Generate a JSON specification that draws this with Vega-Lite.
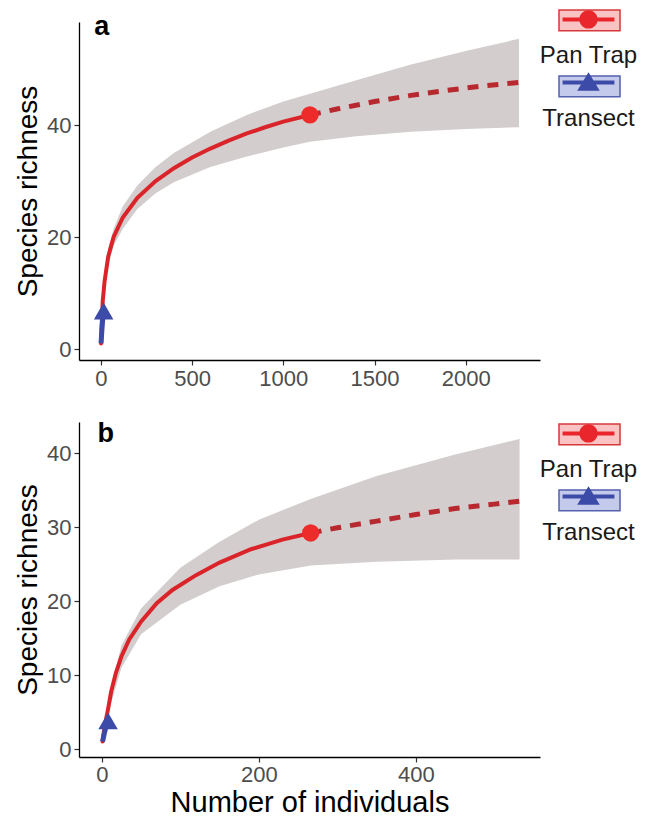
{
  "$schema": "https://vega.github.io/schema/vega-lite/v6.json",
  "background": "white",
  "padding": {"left": 14, "top": 12, "right": 5, "bottom": 0},
  "spacing": 30,
  "datasets": {
    "curves": [
      {"p":"a","m":"Pan Trap","t":"obs","n":1,"S":1},
      {"p":"a","m":"Pan Trap","t":"obs","n":5,"S":4.8},
      {"p":"a","m":"Pan Trap","t":"obs","n":10,"S":8.5},
      {"p":"a","m":"Pan Trap","t":"obs","n":20,"S":12},
      {"p":"a","m":"Pan Trap","t":"obs","n":40,"S":16.5},
      {"p":"a","m":"Pan Trap","t":"obs","n":70,"S":20},
      {"p":"a","m":"Pan Trap","t":"obs","n":120,"S":23.5},
      {"p":"a","m":"Pan Trap","t":"obs","n":200,"S":27},
      {"p":"a","m":"Pan Trap","t":"obs","n":300,"S":30},
      {"p":"a","m":"Pan Trap","t":"obs","n":400,"S":32.3},
      {"p":"a","m":"Pan Trap","t":"obs","n":500,"S":34.2},
      {"p":"a","m":"Pan Trap","t":"obs","n":600,"S":35.8},
      {"p":"a","m":"Pan Trap","t":"obs","n":700,"S":37.2},
      {"p":"a","m":"Pan Trap","t":"obs","n":800,"S":38.5},
      {"p":"a","m":"Pan Trap","t":"obs","n":900,"S":39.6},
      {"p":"a","m":"Pan Trap","t":"obs","n":1000,"S":40.6},
      {"p":"a","m":"Pan Trap","t":"obs","n":1146,"S":41.8},
      {"p":"a","m":"Pan Trap","t":"ext","n":1146,"S":41.8},
      {"p":"a","m":"Pan Trap","t":"ext","n":1300,"S":42.9},
      {"p":"a","m":"Pan Trap","t":"ext","n":1500,"S":44.2},
      {"p":"a","m":"Pan Trap","t":"ext","n":1700,"S":45.3},
      {"p":"a","m":"Pan Trap","t":"ext","n":1900,"S":46.2},
      {"p":"a","m":"Pan Trap","t":"ext","n":2100,"S":47},
      {"p":"a","m":"Pan Trap","t":"ext","n":2292,"S":47.6},
      {"p":"a","m":"Transect","t":"obs","n":1,"S":1},
      {"p":"a","m":"Transect","t":"obs","n":5,"S":3.2},
      {"p":"a","m":"Transect","t":"obs","n":10,"S":5.3},
      {"p":"a","m":"Transect","t":"obs","n":15,"S":6.8},
      {"p":"b","m":"Pan Trap","t":"obs","n":1,"S":1},
      {"p":"b","m":"Pan Trap","t":"obs","n":3,"S":2.6},
      {"p":"b","m":"Pan Trap","t":"obs","n":5,"S":3.8},
      {"p":"b","m":"Pan Trap","t":"obs","n":8,"S":5.4},
      {"p":"b","m":"Pan Trap","t":"obs","n":12,"S":7.8},
      {"p":"b","m":"Pan Trap","t":"obs","n":18,"S":10.3},
      {"p":"b","m":"Pan Trap","t":"obs","n":25,"S":12.5},
      {"p":"b","m":"Pan Trap","t":"obs","n":35,"S":14.8},
      {"p":"b","m":"Pan Trap","t":"obs","n":50,"S":17.2},
      {"p":"b","m":"Pan Trap","t":"obs","n":70,"S":19.7},
      {"p":"b","m":"Pan Trap","t":"obs","n":90,"S":21.5},
      {"p":"b","m":"Pan Trap","t":"obs","n":120,"S":23.5},
      {"p":"b","m":"Pan Trap","t":"obs","n":150,"S":25.2},
      {"p":"b","m":"Pan Trap","t":"obs","n":190,"S":27},
      {"p":"b","m":"Pan Trap","t":"obs","n":230,"S":28.3},
      {"p":"b","m":"Pan Trap","t":"obs","n":266,"S":29.2},
      {"p":"b","m":"Pan Trap","t":"ext","n":266,"S":29.2},
      {"p":"b","m":"Pan Trap","t":"ext","n":300,"S":29.9},
      {"p":"b","m":"Pan Trap","t":"ext","n":350,"S":30.8},
      {"p":"b","m":"Pan Trap","t":"ext","n":400,"S":31.7},
      {"p":"b","m":"Pan Trap","t":"ext","n":450,"S":32.5},
      {"p":"b","m":"Pan Trap","t":"ext","n":500,"S":33.1},
      {"p":"b","m":"Pan Trap","t":"ext","n":532,"S":33.5},
      {"p":"b","m":"Transect","t":"obs","n":1,"S":1},
      {"p":"b","m":"Transect","t":"obs","n":3,"S":2},
      {"p":"b","m":"Transect","t":"obs","n":5,"S":2.9},
      {"p":"b","m":"Transect","t":"obs","n":8,"S":3.8}
    ],
    "ribbon": [
      {"p":"a","n":1,"lo":1,"hi":1},
      {"p":"a","n":10,"lo":7.5,"hi":9.5},
      {"p":"a","n":20,"lo":11,"hi":13},
      {"p":"a","n":40,"lo":15,"hi":18},
      {"p":"a","n":70,"lo":18.5,"hi":21.5},
      {"p":"a","n":120,"lo":21.5,"hi":25.5},
      {"p":"a","n":200,"lo":25,"hi":29.2},
      {"p":"a","n":300,"lo":27.8,"hi":32.5},
      {"p":"a","n":400,"lo":29.8,"hi":35},
      {"p":"a","n":600,"lo":32.5,"hi":38.8},
      {"p":"a","n":800,"lo":34.4,"hi":41.8},
      {"p":"a","n":1000,"lo":36,"hi":44.2},
      {"p":"a","n":1146,"lo":37,"hi":45.6},
      {"p":"a","n":1400,"lo":38,"hi":48},
      {"p":"a","n":1700,"lo":38.8,"hi":50.8},
      {"p":"a","n":2000,"lo":39.3,"hi":53.2},
      {"p":"a","n":2292,"lo":39.6,"hi":55.4},
      {"p":"b","n":1,"lo":1,"hi":1},
      {"p":"b","n":10,"lo":5.5,"hi":7.5},
      {"p":"b","n":25,"lo":11,"hi":14},
      {"p":"b","n":50,"lo":15.5,"hi":19},
      {"p":"b","n":100,"lo":19.5,"hi":24.5},
      {"p":"b","n":150,"lo":22,"hi":28},
      {"p":"b","n":200,"lo":23.6,"hi":31},
      {"p":"b","n":266,"lo":24.8,"hi":33.8},
      {"p":"b","n":350,"lo":25.3,"hi":36.9},
      {"p":"b","n":450,"lo":25.6,"hi":39.8},
      {"p":"b","n":532,"lo":25.6,"hi":41.9}
    ],
    "points": [
      {"p":"a","m":"Pan Trap","n":1146,"S":41.8},
      {"p":"a","m":"Transect","n":15,"S":6.8},
      {"p":"b","m":"Pan Trap","n":266,"S":29.2},
      {"p":"b","m":"Transect","n":8,"S":3.8}
    ],
    "tags": [
      {"p":"a","label":"a","n":5,"S":56.1},
      {"p":"b","label":"b","n":5,"S":41.5}
    ]
  },
  "vconcat": [
    {
      "width": 461,
      "height": 338,
      "layer": [
        {
          "data": {"name": "ribbon"},
          "transform": [{"filter": "datum.p == 'a'"}],
          "mark": {"type": "area", "color": "#D3CDCD", "opacity": 1},
          "encoding": {
            "x": {"field": "n", "type": "quantitative", "scale": {"domain": [-120, 2407], "nice": false, "zero": false}, "axis": {"values": [0, 500, 1000, 1500, 2000], "format": "d", "title": null}},
            "y": {"field": "lo", "type": "quantitative", "scale": {"domain": [-1.96, 58.4], "nice": false, "zero": false}, "axis": {"values": [0, 20, 40], "title": "Species richness"}},
            "y2": {"field": "hi"}
          }
        },
        {
          "data": {"name": "curves"},
          "transform": [{"filter": "datum.p == 'a' && datum.m == 'Pan Trap' && datum.t == 'obs'"}],
          "mark": {"type": "line", "color": "#DA2429", "strokeWidth": 4, "strokeCap": "round"},
          "encoding": {"x": {"field": "n", "type": "quantitative"}, "y": {"field": "S", "type": "quantitative"}}
        },
        {
          "data": {"name": "curves"},
          "transform": [{"filter": "datum.p == 'a' && datum.m == 'Pan Trap' && datum.t == 'ext'"}],
          "mark": {"type": "line", "color": "#B8292F", "strokeWidth": 5, "strokeDash": [11, 9]},
          "encoding": {"x": {"field": "n", "type": "quantitative"}, "y": {"field": "S", "type": "quantitative"}}
        },
        {
          "data": {"name": "points"},
          "transform": [{"filter": "datum.p == 'a' && datum.m == 'Pan Trap'"}],
          "mark": {"type": "point", "shape": "circle", "filled": true, "color": "#EE2B2B", "size": 300, "opacity": 1},
          "encoding": {"x": {"field": "n", "type": "quantitative"}, "y": {"field": "S", "type": "quantitative"}}
        },
        {
          "data": {"name": "curves"},
          "transform": [{"filter": "datum.p == 'a' && datum.m == 'Transect'"}],
          "mark": {"type": "line", "color": "#3D4BA6", "strokeWidth": 5},
          "encoding": {"x": {"field": "n", "type": "quantitative"}, "y": {"field": "S", "type": "quantitative"}}
        },
        {
          "data": {"name": "points"},
          "transform": [{"filter": "datum.p == 'a' && datum.m == 'Transect'"}],
          "mark": {"type": "point", "shape": "triangle-up", "filled": true, "color": "#3C4AA8", "size": 380, "opacity": 1},
          "encoding": {"x": {"field": "n", "type": "quantitative"}, "y": {"field": "S", "type": "quantitative"}}
        },
        {
          "data": {"name": "tags"},
          "transform": [{"filter": "datum.p == 'a'"}],
          "mark": {"type": "text", "font": "Liberation Sans", "fontSize": 27, "fontWeight": "bold", "color": "#000", "align": "center", "baseline": "alphabetic"},
          "encoding": {"x": {"field": "n", "type": "quantitative"}, "y": {"field": "S", "type": "quantitative"}, "text": {"field": "label"}}
        },
        {
          "data": {"name": "points"},
          "transform": [{"filter": "false"}],
          "mark": {"type": "point", "opacity": 1},
          "encoding": {
            "fill": {"field": "m", "type": "nominal", "scale": {"domain": ["PT", "TR"], "range": ["rgba(232,40,40,0.28)", "rgba(60,80,190,0.3)"]},
              "legend": {"orient": "none", "legendX": 479, "legendY": -9, "title": null, "padding": 0, "symbolType": "M-1,-1.13L1,-1.13L1,-0.45L-1,-0.45Z", "symbolSize": 3721, "symbolStrokeWidth": 1.5, "labelExpr": "' '", "labelFontSize": 24, "labelFont": "Liberation Sans", "labelAlign": "center", "labelBaseline": "top", "labelOffset": -30.5, "rowPadding": 4}},
            "stroke": {"field": "m", "type": "nominal", "scale": {"domain": ["PT", "TR"], "range": ["#D9383A", "#5560B0"]},
              "legend": {"orient": "none", "legendX": 479, "legendY": -9, "title": null, "padding": 0, "symbolType": "M-1,-1.13L1,-1.13L1,-0.45L-1,-0.45Z", "symbolSize": 3721, "symbolStrokeWidth": 1.5, "labelExpr": "' '", "labelFontSize": 24, "labelFont": "Liberation Sans", "labelAlign": "center", "labelBaseline": "top", "labelOffset": -30.5, "rowPadding": 4}}
          }
        },
        {
          "data": {"name": "points"},
          "transform": [{"filter": "false"}],
          "mark": {"type": "point", "filled": true, "opacity": 1},
          "encoding": {
            "color": {"field": "m", "type": "nominal", "scale": {"domain": ["Pan Trap", "Transect"], "range": ["#E8262B", "#3C4AA8"]},
              "legend": {"orient": "none", "legendX": 479, "legendY": -9, "title": null, "padding": 0, "symbolSize": 3721, "symbolStrokeWidth": 0, "labelColor": "#1A1A1A", "labelFontSize": 24, "labelFont": "Liberation Sans", "labelAlign": "center", "labelBaseline": "top", "labelOffset": -30.5, "rowPadding": 4}},
            "shape": {"field": "m", "type": "nominal", "scale": {"domain": ["Pan Trap", "Transect"], "range": ["M-1,-1.13L-1,-1.13M1,-0.45L1,-0.45M-0.85,-0.855L0.85,-0.855L0.85,-0.725L-0.85,-0.725ZM0.3,-0.79A0.3,0.3,0,1,1,-0.3,-0.79A0.3,0.3,0,1,1,0.3,-0.79Z", "M-1,-1.13L-1,-1.13M1,-0.45L1,-0.45M-0.85,-0.855L0.85,-0.855L0.85,-0.725L-0.85,-0.725ZM0,-1.12L0.37,-0.52L-0.37,-0.52Z"]},
              "legend": {"orient": "none", "legendX": 479, "legendY": -9, "title": null, "padding": 0, "symbolSize": 3721, "symbolStrokeWidth": 0, "labelColor": "#1A1A1A", "labelFontSize": 24, "labelFont": "Liberation Sans", "labelAlign": "center", "labelBaseline": "top", "labelOffset": -30.5, "rowPadding": 4}}
          }
        }
      ]
    },
    {
      "width": 461,
      "height": 335,
      "layer": [
        {
          "data": {"name": "ribbon"},
          "transform": [{"filter": "datum.p == 'b'"}],
          "mark": {"type": "area", "color": "#D3CDCD", "opacity": 1},
          "encoding": {
            "x": {"field": "n", "type": "quantitative", "scale": {"domain": [-29, 558], "nice": false, "zero": false}, "axis": {"values": [0, 200, 400], "format": "d", "title": "Number of individuals", "titleFontSize": 29, "titlePadding": 3, "labelPadding": 2}},
            "y": {"field": "lo", "type": "quantitative", "scale": {"domain": [-1.08, 44.2], "nice": false, "zero": false}, "axis": {"values": [0, 10, 20, 30, 40], "title": "Species richness"}},
            "y2": {"field": "hi"}
          }
        },
        {
          "data": {"name": "curves"},
          "transform": [{"filter": "datum.p == 'b' && datum.m == 'Pan Trap' && datum.t == 'obs'"}],
          "mark": {"type": "line", "color": "#DA2429", "strokeWidth": 4, "strokeCap": "round"},
          "encoding": {"x": {"field": "n", "type": "quantitative"}, "y": {"field": "S", "type": "quantitative"}}
        },
        {
          "data": {"name": "curves"},
          "transform": [{"filter": "datum.p == 'b' && datum.m == 'Pan Trap' && datum.t == 'ext'"}],
          "mark": {"type": "line", "color": "#B8292F", "strokeWidth": 5, "strokeDash": [11, 9]},
          "encoding": {"x": {"field": "n", "type": "quantitative"}, "y": {"field": "S", "type": "quantitative"}}
        },
        {
          "data": {"name": "points"},
          "transform": [{"filter": "datum.p == 'b' && datum.m == 'Pan Trap'"}],
          "mark": {"type": "point", "shape": "circle", "filled": true, "color": "#EE2B2B", "size": 300, "opacity": 1},
          "encoding": {"x": {"field": "n", "type": "quantitative"}, "y": {"field": "S", "type": "quantitative"}}
        },
        {
          "data": {"name": "curves"},
          "transform": [{"filter": "datum.p == 'b' && datum.m == 'Transect'"}],
          "mark": {"type": "line", "color": "#3D4BA6", "strokeWidth": 5},
          "encoding": {"x": {"field": "n", "type": "quantitative"}, "y": {"field": "S", "type": "quantitative"}}
        },
        {
          "data": {"name": "points"},
          "transform": [{"filter": "datum.p == 'b' && datum.m == 'Transect'"}],
          "mark": {"type": "point", "shape": "triangle-up", "filled": true, "color": "#3C4AA8", "size": 380, "opacity": 1},
          "encoding": {"x": {"field": "n", "type": "quantitative"}, "y": {"field": "S", "type": "quantitative"}}
        },
        {
          "data": {"name": "tags"},
          "transform": [{"filter": "datum.p == 'b'"}],
          "mark": {"type": "text", "font": "Liberation Sans", "fontSize": 27, "fontWeight": "bold", "color": "#000", "align": "center", "baseline": "alphabetic"},
          "encoding": {"x": {"field": "n", "type": "quantitative"}, "y": {"field": "S", "type": "quantitative"}, "text": {"field": "label"}}
        },
        {
          "data": {"name": "points"},
          "transform": [{"filter": "false"}],
          "mark": {"type": "point", "opacity": 1},
          "encoding": {
            "fill": {"field": "m", "type": "nominal", "scale": {"domain": ["PT", "TR"], "range": ["rgba(232,40,40,0.28)", "rgba(60,80,190,0.3)"]},
              "legend": {"orient": "none", "legendX": 479, "legendY": 5, "title": null, "padding": 0, "symbolType": "M-1,-1.13L1,-1.13L1,-0.45L-1,-0.45Z", "symbolSize": 3721, "symbolStrokeWidth": 1.5, "labelExpr": "' '", "labelFontSize": 24, "labelFont": "Liberation Sans", "labelAlign": "center", "labelBaseline": "top", "labelOffset": -30.5, "rowPadding": 4}},
            "stroke": {"field": "m", "type": "nominal", "scale": {"domain": ["PT", "TR"], "range": ["#D9383A", "#5560B0"]},
              "legend": {"orient": "none", "legendX": 479, "legendY": 5, "title": null, "padding": 0, "symbolType": "M-1,-1.13L1,-1.13L1,-0.45L-1,-0.45Z", "symbolSize": 3721, "symbolStrokeWidth": 1.5, "labelExpr": "' '", "labelFontSize": 24, "labelFont": "Liberation Sans", "labelAlign": "center", "labelBaseline": "top", "labelOffset": -30.5, "rowPadding": 4}}
          }
        },
        {
          "data": {"name": "points"},
          "transform": [{"filter": "false"}],
          "mark": {"type": "point", "filled": true, "opacity": 1},
          "encoding": {
            "color": {"field": "m", "type": "nominal", "scale": {"domain": ["Pan Trap", "Transect"], "range": ["#E8262B", "#3C4AA8"]},
              "legend": {"orient": "none", "legendX": 479, "legendY": 5, "title": null, "padding": 0, "symbolSize": 3721, "symbolStrokeWidth": 0, "labelColor": "#1A1A1A", "labelFontSize": 24, "labelFont": "Liberation Sans", "labelAlign": "center", "labelBaseline": "top", "labelOffset": -30.5, "rowPadding": 4}},
            "shape": {"field": "m", "type": "nominal", "scale": {"domain": ["Pan Trap", "Transect"], "range": ["M-1,-1.13L-1,-1.13M1,-0.45L1,-0.45M-0.85,-0.855L0.85,-0.855L0.85,-0.725L-0.85,-0.725ZM0.3,-0.79A0.3,0.3,0,1,1,-0.3,-0.79A0.3,0.3,0,1,1,0.3,-0.79Z", "M-1,-1.13L-1,-1.13M1,-0.45L1,-0.45M-0.85,-0.855L0.85,-0.855L0.85,-0.725L-0.85,-0.725ZM0,-1.12L0.37,-0.52L-0.37,-0.52Z"]},
              "legend": {"orient": "none", "legendX": 479, "legendY": 5, "title": null, "padding": 0, "symbolSize": 3721, "symbolStrokeWidth": 0, "labelColor": "#1A1A1A", "labelFontSize": 24, "labelFont": "Liberation Sans", "labelAlign": "center", "labelBaseline": "top", "labelOffset": -30.5, "rowPadding": 4}}
          }
        }
      ]
    }
  ],
  "resolve": {
    "scale": {"x": "independent", "y": "independent", "color": "independent", "shape": "independent", "fill": "independent", "stroke": "independent"},
    "legend": {"color": "independent", "shape": "independent", "fill": "independent", "stroke": "independent"}
  },
  "config": {
    "view": {"stroke": null},
    "axis": {
      "grid": false,
      "domainColor": "#000000",
      "domainWidth": 1.3,
      "tickColor": "#333333",
      "tickSize": 5,
      "tickWidth": 1.2,
      "labelFont": "Liberation Sans",
      "labelFontSize": 22,
      "labelColor": "#4D4D4D",
      "labelPadding": 3,
      "titleFont": "Liberation Sans",
      "titleFontSize": 28,
      "titleFontWeight": "normal",
      "titleColor": "#000000",
      "titlePadding": 4
    }
  }
}
